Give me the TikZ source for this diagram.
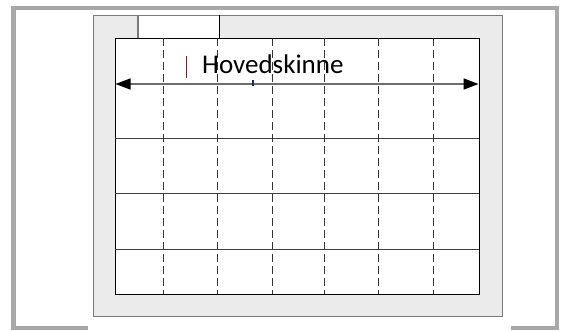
\documentclass[tikz,border=0pt]{standalone}
\usepackage{fontspec}
\setmainfont{Carlito}
\usetikzlibrary{arrows.meta}
\definecolor{framegray}{HTML}{A8A8A8}
\definecolor{hallfill}{HTML}{EBEBEB}
\definecolor{halledge}{HTML}{7A7A7A}
\definecolor{railgray}{HTML}{6E6E6E}
\definecolor{gridline}{HTML}{404040}
\definecolor{cursorred}{HTML}{8B1A1A}
\definecolor{tickblue}{HTML}{1A2A5A}
\tikzset{
  outerframe/.style={draw=framegray, line width=4.5pt},
  hall/.style={draw=halledge, fill=hallfill, line width=1.2pt},
  inner/.style={draw=black, fill=white, line width=1pt},
  rowline/.style={draw=gridline, line width=1pt},
  colline/.style={draw=black!80, line width=1pt, dash pattern=on 8pt off 4pt},
  rail/.style={draw=railgray, line width=1.5pt, {Triangle[length=15pt,width=11pt,color=black]}-{Triangle[length=15pt,width=11pt,color=black]}},
  label/.style={inner sep=0pt, font=\fontsize{27pt}{30pt}\selectfont, text=black}
}
\begin{document}
\begin{tikzpicture}[x=1pt,y=-1pt]
\useasboundingbox (0,0) rectangle (561,330);
% outer frame, open at the bottom middle
\coordinate (fbl) at (88,328);
\coordinate (fl) at (13.5,328);
\coordinate (ftl) at (13.5,8);
\coordinate (ftr) at (557,8);
\coordinate (fr) at (557,328);
\coordinate (fbr) at (511,328);
\draw[outerframe] (fbl) -- (fl) -- (ftl) -- (ftr) -- (fr) -- (fbr);
% hall
\node[hall, minimum width=409pt, minimum height=301pt, inner sep=0pt, anchor=north west] (hallbox) at (93,15) {};
% notch
\fill[white] (138,15.6) rectangle (219,38);
\coordinate (nlt) at (138,15);
\coordinate (nlb) at (138,38);
\coordinate (nrt) at (219,15);
\coordinate (nrb) at (219,38);
\draw[halledge, line width=1.5pt] (nlt) -- (nlb);
\draw[black, line width=1pt] (nrt) -- (nrb);
% inner area
\node[inner, minimum width=364pt, minimum height=256pt, inner sep=0pt, anchor=north west] (area) at (115,38) {};
% row lines
\foreach \y/\n in {138/a,193/b,249/c} {
  \coordinate (r\n l) at (115,\y);
  \coordinate (r\n r) at (479,\y);
  \draw[rowline] (r\n l) -- (r\n r);
}
% column lines
\foreach \x/\n in {163/a,217/b,272/c,324/d,378/e,433/f} {
  \coordinate (c\n t) at (\x,38);
  \coordinate (c\n b) at (\x,294);
  \draw[colline] (c\n t) -- (c\n b);
}
% rail
\coordinate (railL) at (115.5,84);
\coordinate (railR) at (478.5,84);
\draw[rail] (railL) -- (railR);
% tick mark
\coordinate (tickt) at (253,80);
\coordinate (tickb) at (253,86);
\draw[tickblue, line width=2pt] (tickt) -- (tickb);
% cursor bar
\coordinate (curt) at (186,56);
\coordinate (curb) at (186,78);
\draw[cursorred, line width=1pt] (curt) -- (curb);
% label
\node[label, anchor=base west] (lbl) at (202,73) {Hovedskinne};
\end{tikzpicture}
\end{document}
